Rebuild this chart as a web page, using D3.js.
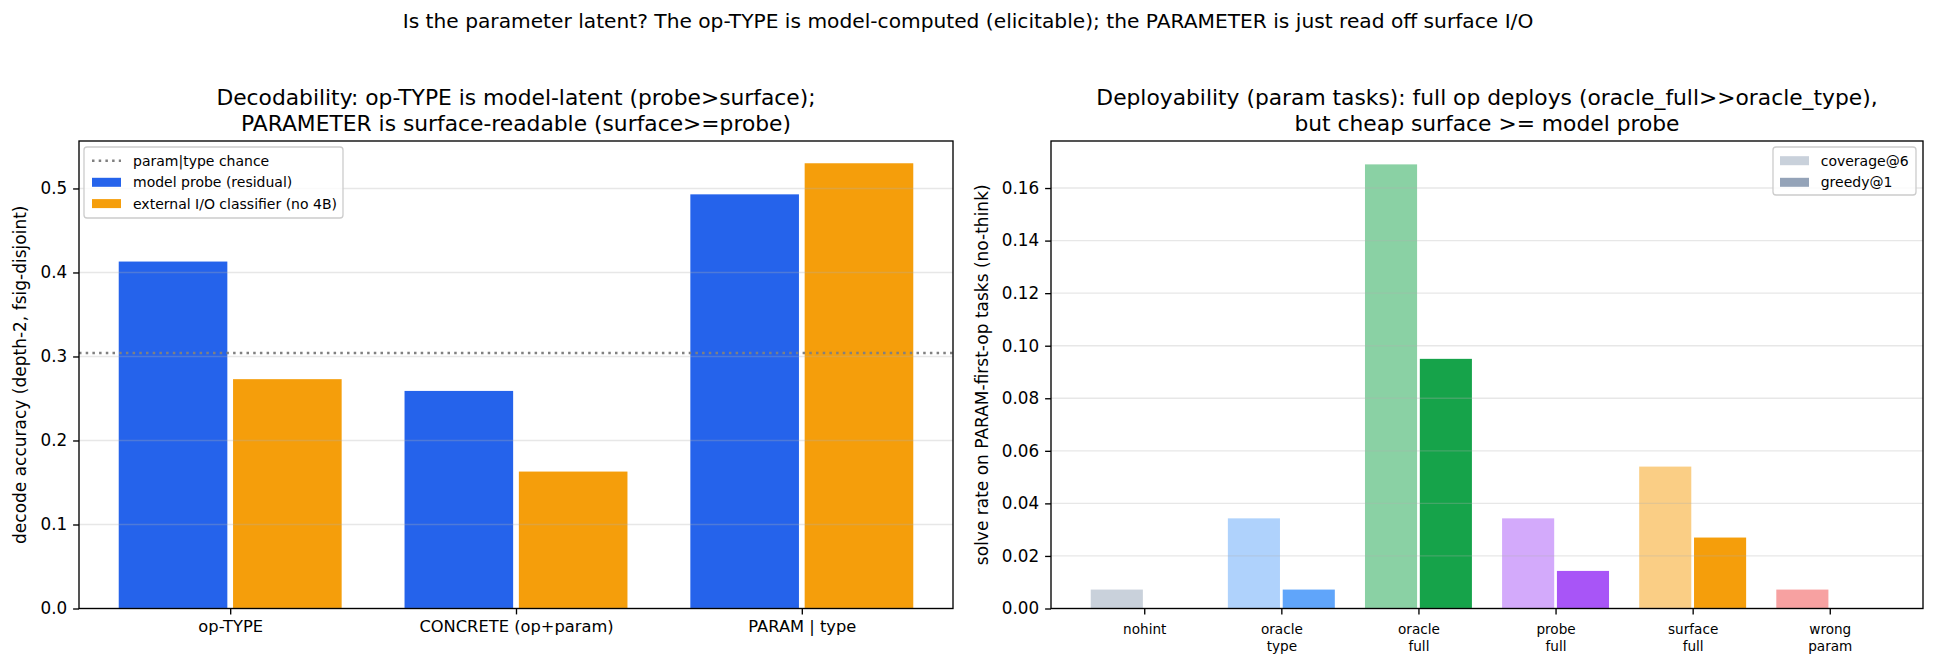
<!DOCTYPE html>
<html>
<head>
<meta charset="utf-8">
<script src="https://cdn.jsdelivr.net/npm/d3@7/dist/d3.min.js"></script>
<style>
  html, body { margin: 0; padding: 0; background: #fff; }
  svg { display: block; font-family: "DejaVu Sans", sans-serif; }
</style>
</head>
<body>
<svg id="chart" width="1936" height="668"></svg>
<script>
// ---------------- DATA ----------------
const suptitle = "Is the parameter latent? The op-TYPE is model-computed (elicitable); the PARAMETER is just read off surface I/O";

const leftTitle = ["Decodability: op-TYPE is model-latent (probe>surface);",
                   "PARAMETER is surface-readable (surface>=probe)"];
const leftYLabel = "decode accuracy (depth-2, fsig-disjoint)";
const leftCategories = ["op-TYPE", "CONCRETE (op+param)", "PARAM | type"];
const probeValues   = [0.413, 0.259, 0.493];
const surfaceValues = [0.273, 0.163, 0.530];
const chanceValue = 0.304;
const leftTicks = [0.0, 0.1, 0.2, 0.3, 0.4, 0.5];
const leftLegend = ["param|type chance", "model probe (residual)", "external I/O classifier (no 4B)"];

const rightTitle = ["Deployability (param tasks): full op deploys (oracle_full>>oracle_type),",
                    "but cheap surface >= model probe"];
const rightYLabel = "solve rate on PARAM-first-op tasks (no-think)";
const rightCategories = ["nohint", "oracle\ntype", "oracle\nfull", "probe\nfull", "surface\nfull", "wrong\nparam"];
const coverageValues = [0.0072, 0.0343, 0.169, 0.0343, 0.054, 0.0072];
const greedyValues   = [0.0,    0.0072, 0.095, 0.0143, 0.027, 0.0];
const rightTicks = [0.00, 0.02, 0.04, 0.06, 0.08, 0.10, 0.12, 0.14, 0.16];
const rightLegend = ["coverage@6", "greedy@1"];

// ---------------- STYLE / LAYOUT ----------------
const COL_PROBE = "#2563eb", COL_SURF = "#f59e0b", COL_CHANCE = "#808080";
const rightColors = ["#94a3b8", "#60a5fa", "#16a34a", "#a855f7", "#f59e0b", "#ef4444"];
const legendGrey = "#94a3b8";
const FONT = "DejaVu Sans";
const L = {x0: 79, x1: 953, y0: 141, y1: 608.5};
const R = {x0: 1051, x1: 1923, y0: 141, y1: 608.5};
const TICK = 5.9, PAD = 5.9, SPINE = 1.34;
const BW = 0.38, OFF = 0.2;

const svg = d3.select("#chart");
svg.append("rect").attr("width", 1936).attr("height", 668).attr("fill", "#fff");

svg.append("text").attr("x", 968).attr("y", 21).attr("text-anchor", "middle")
  .attr("dominant-baseline", "central").attr("font-size", 20.2).text(suptitle);

function titles(lines, cx) {
  lines.forEach((t, i) => {
    svg.append("text").attr("x", cx).attr("y", 97 + i * 26.6)
      .attr("text-anchor", "middle").attr("dominant-baseline", "central")
      .attr("font-size", 21.8).text(t);
  });
}
function ylabel(t, x, cy) {
  svg.append("text").attr("transform", `translate(${x},${cy}) rotate(-90)`)
    .attr("text-anchor", "middle").attr("dominant-baseline", "central")
    .attr("font-size", 17).text(t);
}
function styleAxis(g, fs) {
  g.select(".domain").remove();
  g.selectAll(".tick line").attr("stroke", "#000").attr("stroke-width", SPINE);
  g.selectAll(".tick text").attr("fill", "#000").attr("font-size", fs).attr("font-family", FONT);
}
function grid(yScale, ticks, box) {
  svg.append("g").selectAll("line").data(ticks).join("line")
    .attr("x1", box.x0).attr("x2", box.x1)
    .attr("y1", d => yScale(d)).attr("y2", d => yScale(d))
    .attr("stroke", "#b0b0b0").attr("stroke-opacity", 0.3).attr("stroke-width", 1.34);
}
function frame(box) {
  svg.append("rect").attr("x", box.x0).attr("y", box.y0)
    .attr("width", box.x1 - box.x0).attr("height", box.y1 - box.y0)
    .attr("fill", "none").attr("stroke", "#000").attr("stroke-width", SPINE);
}
function legendBox(x, y, w, h) {
  svg.append("rect").attr("x", x).attr("y", y).attr("width", w).attr("height", h)
    .attr("rx", 3).attr("ry", 3).attr("fill", "#fff").attr("fill-opacity", 0.8)
    .attr("stroke", "#cccccc").attr("stroke-width", 1.3);
}

// ---------------- LEFT PANEL ----------------
const lx = d3.scaleLinear().domain([-0.529, 2.529]).range([L.x0, L.x1]);
const ly = d3.scaleLinear().domain([0, 0.5565]).range([L.y1, L.y0]);

const lBars = svg.append("g");
lBars.selectAll("rect.p").data(probeValues).join("rect").attr("class", "p")
  .attr("x", (d, i) => lx(i - OFF - BW / 2)).attr("width", (d, i) => lx(i - OFF + BW / 2) - lx(i - OFF - BW / 2))
  .attr("y", d => ly(d)).attr("height", d => ly(0) - ly(d)).attr("fill", COL_PROBE);
lBars.selectAll("rect.s").data(surfaceValues).join("rect").attr("class", "s")
  .attr("x", (d, i) => lx(i + OFF - BW / 2)).attr("width", (d, i) => lx(i + OFF + BW / 2) - lx(i + OFF - BW / 2))
  .attr("y", d => ly(d)).attr("height", d => ly(0) - ly(d)).attr("fill", COL_SURF);

grid(ly, leftTicks, L);

svg.append("line").attr("x1", L.x0).attr("x2", L.x1)
  .attr("y1", ly(chanceValue)).attr("y2", ly(chanceValue))
  .attr("stroke", COL_CHANCE).attr("stroke-width", 2.5).attr("stroke-dasharray", "2.5,4.2");

const lyAxis = svg.append("g").attr("transform", `translate(${L.x0},0)`)
  .call(d3.axisLeft(ly).tickValues(leftTicks).tickFormat(d3.format(".1f")).tickSize(TICK).tickPadding(PAD));
styleAxis(lyAxis, 16.8);
const lxAxis = svg.append("g").attr("transform", `translate(0,${L.y1})`)
  .call(d3.axisBottom(lx).tickValues([0, 1, 2]).tickFormat(i => leftCategories[i]).tickSize(TICK).tickPadding(PAD));
styleAxis(lxAxis, 16.3);
frame(L);
titles(leftTitle, (L.x0 + L.x1) / 2);
ylabel(leftYLabel, 20, (L.y0 + L.y1) / 2);

// left legend
legendBox(84, 147, 259, 71);
const llg = svg.append("g");
const lrows = [160.7, 182.3, 203.6];
llg.append("line").attr("x1", 92).attr("x2", 121).attr("y1", lrows[0]).attr("y2", lrows[0])
  .attr("stroke", COL_CHANCE).attr("stroke-width", 2.5).attr("stroke-dasharray", "2.5,4.2");
llg.append("rect").attr("x", 92).attr("y", lrows[1] - 4.5).attr("width", 29).attr("height", 9).attr("fill", COL_PROBE);
llg.append("rect").attr("x", 92).attr("y", lrows[2] - 4.5).attr("width", 29).attr("height", 9).attr("fill", COL_SURF);
leftLegend.forEach((t, i) => {
  llg.append("text").attr("x", 133).attr("y", lrows[i]).attr("dominant-baseline", "central")
    .attr("font-size", 14).text(t);
});

// ---------------- RIGHT PANEL ----------------
const rx = d3.scaleLinear().domain([-0.68, 5.68]).range([R.x0, R.x1]);
const ry = d3.scaleLinear().domain([0, 0.1779]).range([R.y1, R.y0]);

const rBars = svg.append("g");
rBars.selectAll("rect.c").data(coverageValues).join("rect").attr("class", "c")
  .attr("x", (d, i) => rx(i - OFF - BW / 2)).attr("width", (d, i) => rx(i - OFF + BW / 2) - rx(i - OFF - BW / 2))
  .attr("y", d => ry(d)).attr("height", d => ry(0) - ry(d))
  .attr("fill", (d, i) => rightColors[i]).attr("fill-opacity", 0.5);
rBars.selectAll("rect.g").data(greedyValues).join("rect").attr("class", "g")
  .attr("x", (d, i) => rx(i + OFF - BW / 2)).attr("width", (d, i) => rx(i + OFF + BW / 2) - rx(i + OFF - BW / 2))
  .attr("y", d => ry(d)).attr("height", d => ry(0) - ry(d))
  .attr("fill", (d, i) => rightColors[i]);

grid(ry, rightTicks, R);

const ryAxis = svg.append("g").attr("transform", `translate(${R.x0},0)`)
  .call(d3.axisLeft(ry).tickValues(rightTicks).tickFormat(d3.format(".2f")).tickSize(TICK).tickPadding(PAD));
styleAxis(ryAxis, 16.8);
const rxAxis = svg.append("g").attr("transform", `translate(0,${R.y1})`)
  .call(d3.axisBottom(rx).tickValues(d3.range(rightCategories.length)).tickFormat("").tickSize(TICK).tickPadding(PAD));
styleAxis(rxAxis, 13.6);
rxAxis.selectAll(".tick").each(function(i) {
  const t = d3.select(this).select("text").attr("y", 0).attr("dy", null);
  rightCategories[i].split("\n").forEach((ln, k) => {
    t.append("tspan").attr("x", 0).attr("y", 20 + k * 17.5).attr("dominant-baseline", "central").text(ln);
  });
});
frame(R);
titles(rightTitle, (R.x0 + R.x1) / 2);
ylabel(rightYLabel, 982, (R.y0 + R.y1) / 2);

// right legend
legendBox(1773, 147, 143, 48);
const rlg = svg.append("g");
const rrows = [160.7, 182.3];
rlg.append("rect").attr("x", 1780).attr("y", rrows[0] - 4.5).attr("width", 29).attr("height", 9)
  .attr("fill", legendGrey).attr("fill-opacity", 0.5);
rlg.append("rect").attr("x", 1780).attr("y", rrows[1] - 4.5).attr("width", 29).attr("height", 9)
  .attr("fill", legendGrey);
rightLegend.forEach((t, i) => {
  rlg.append("text").attr("x", 1820.7).attr("y", rrows[i]).attr("dominant-baseline", "central")
    .attr("font-size", 14).text(t);
});
</script>
</body>
</html>
